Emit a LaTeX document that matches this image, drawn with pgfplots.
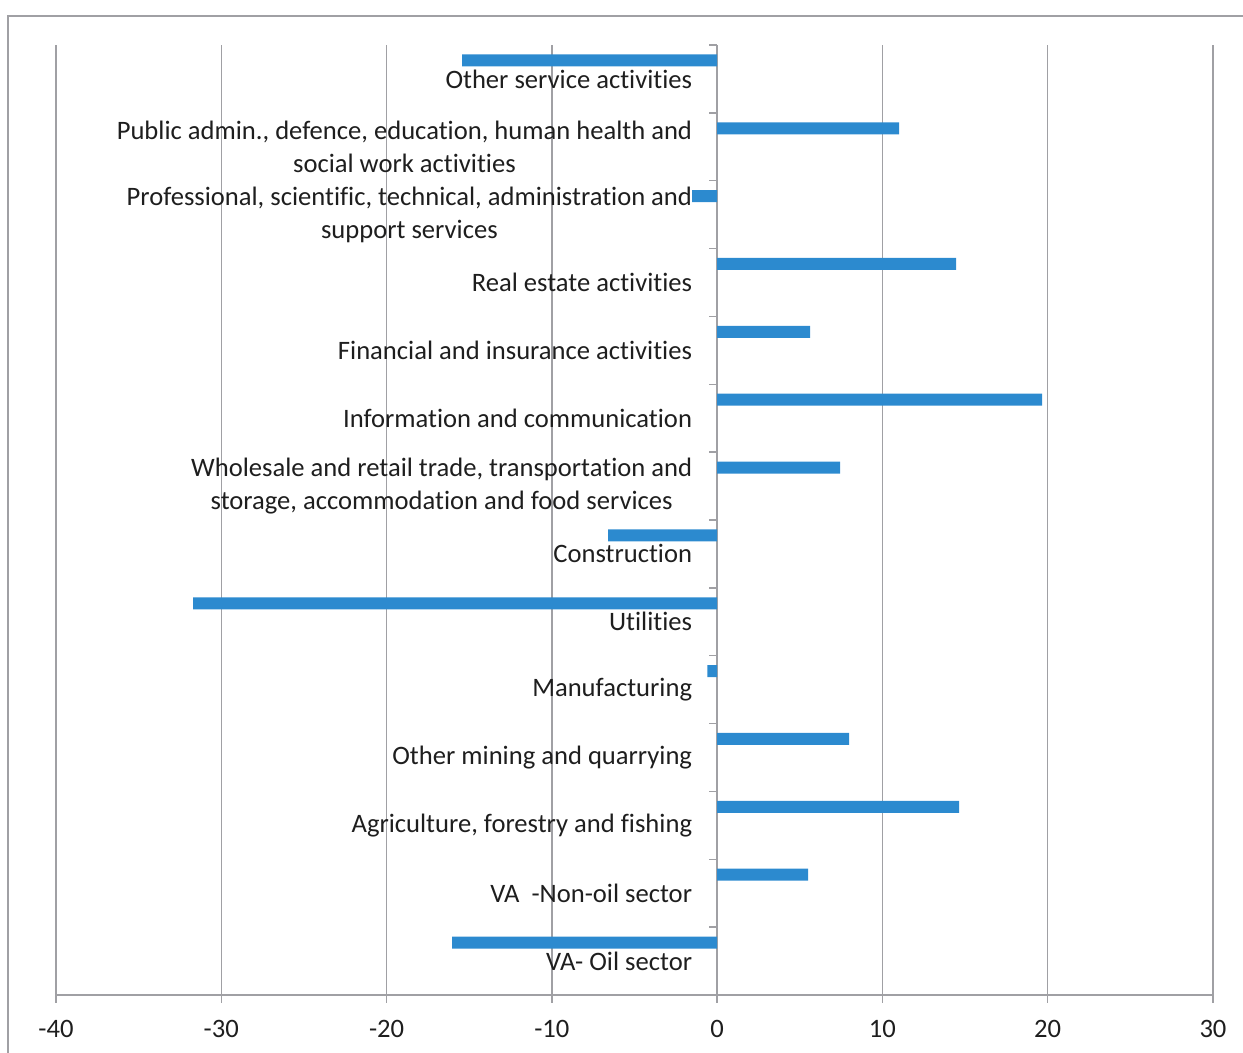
\documentclass[border=0pt]{standalone}
\usepackage{pgfplots}
\pgfplotsset{compat=1.18}
\usepackage{fontspec}
\setmainfont{Carlito}[Ligatures=NoCommon]
\definecolor{barblue}{RGB}{44,138,207}
\definecolor{gridgray}{RGB}{160,160,164}
\definecolor{txt}{RGB}{30,30,30}
\begin{document}
\begin{tikzpicture}
\useasboundingbox (-28pt,-29pt) rectangle (593.5pt,497.5pt);
\draw[gridgray, line width=1pt] (-24pt,-40pt) -- (-24pt,489.5pt) -- (610pt,489.5pt);
\begin{axis}[
  at={(0pt,0pt)}, anchor=south west,
  scale only axis, width=578.5pt, height=475pt,
  xmin=-40, xmax=30, ymin=-0.5, ymax=13.5,
  xbar, bar width=6pt, bar shift=9.25pt,
  axis x line*=bottom, axis y line*=middle,
  hide obscured y ticks=false,
  hide obscured x ticks=false,
  axis line style={gridgray, line width=0.75pt},
  xtick={-40,-30,-20,-10,0,10,20,30},
  ytick={-0.5,0.5,...,13.5},
  y tick label as interval,
  yticklabels={VA- Oil sector,
    VA\ \ -Non-oil sector,
    {Agriculture, forestry and fishing},
    Other mining and quarrying,
    Manufacturing,
    Utilities,
    Construction,
    {Wholesale and retail trade, transportation and\\storage, accommodation and food services},
    Information and communication,
    Financial and insurance activities,
    Real estate activities,
    {Professional, scientific, technical, administration and\\support services},
    {Public admin., defence, education, human health and\\social work activities},
    Other service activities},
  tick align=outside,
  major tick length=4pt,
  tick style={gridgray, line width=0.75pt},
  xmajorgrids,
  grid style={gridgray, line width=0.75pt},
  /pgf/number format/assume math mode=true,
  ticklabel style={font=\fontsize{13.3}{16.5}\selectfont, text=txt},
  yticklabel style={align=center, anchor=east, xshift=-5pt},
  xticklabel style={yshift=-5pt},
  clip=false,
]
\addplot[fill=barblue, draw=none] coordinates {
  (-16.03,0) (5.50,1) (14.64,2) (7.99,3) (-0.59,4) (-31.70,5) (-6.59,6)
  (7.44,7) (19.66,8) (5.63,9) (14.46,10) (-1.51,11) (11.01,12) (-15.43,13)
};
\end{axis}
\end{tikzpicture}
\end{document}
